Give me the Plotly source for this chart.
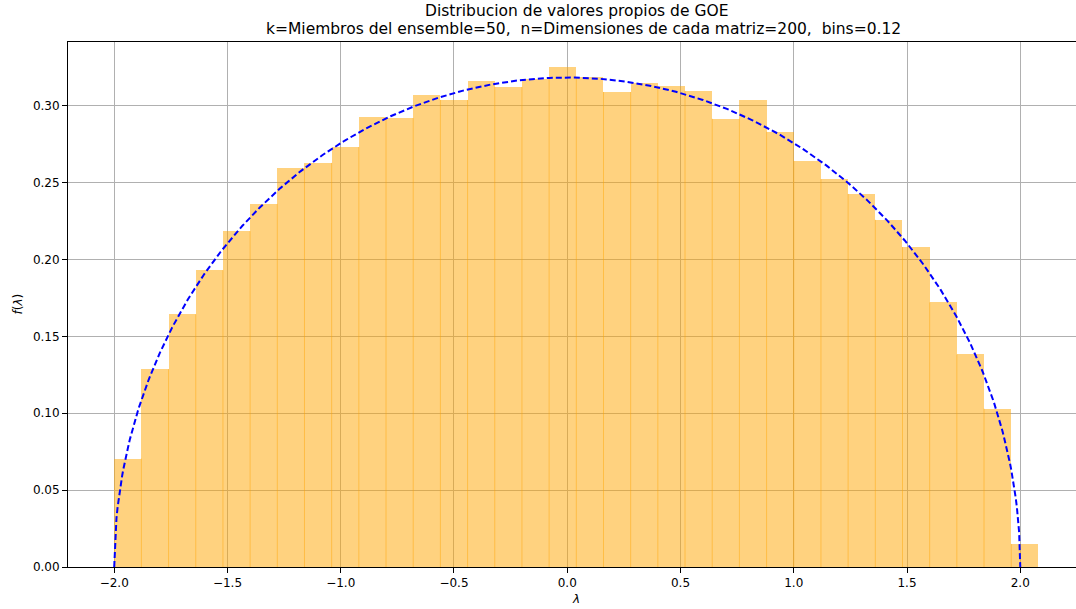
import numpy as np
import plotly.graph_objects as go

# ---- data ----
bin_start = -2.0
bin_width = 0.12
densities = [0.0705, 0.1286, 0.1643, 0.1930, 0.2184, 0.2361, 0.2594, 0.2628,
             0.2731, 0.2924, 0.2920, 0.3069, 0.3037, 0.3160, 0.3121, 0.3175,
             0.3251, 0.3184, 0.3089, 0.3147, 0.3128, 0.3095, 0.2915, 0.3039,
             0.2830, 0.2641, 0.2522, 0.2426, 0.2258, 0.2080, 0.1721, 0.1382,
             0.1030, 0.0150]
x_ticks = [-2.0, -1.5, -1.0, -0.5, 0.0, 0.5, 1.0, 1.5, 2.0]
y_ticks = [0.00, 0.05, 0.10, 0.15, 0.20, 0.25, 0.30]
title_line1 = "Distribucion de valores propios de GOE"
title_line2 = "k=Miembros del ensemble=50,  n=Dimensiones de cada matriz=200,  bins=0.12"

# analytic Wigner semicircle (theoretical curve drawn in the reference)
R = 2.0
lam = np.linspace(-R, R, 801)
semicircle = np.sqrt(np.clip(R**2 - lam**2, 0, None)) / (2 * np.pi)

n = len(densities)
centers = [bin_start + bin_width * (i + 0.5) for i in range(n)]

# seams between adjacent bars (overlapping semi-transparent edges in the original)
seam_x, seam_y = [], []
for i in range(1, n):
    e = bin_start + bin_width * i
    seam_x += [e, e, None]
    seam_y += [0, min(densities[i - 1], densities[i]), None]

FONT = "DejaVu Sans"
fig = go.Figure()
fig.add_trace(go.Bar(
    x=centers, y=densities, width=bin_width,
    marker=dict(color="rgba(255,165,0,0.5)", line=dict(width=0)),
    showlegend=False, hoverinfo="skip"))
fig.add_trace(go.Scatter(
    x=seam_x, y=seam_y, mode="lines",
    line=dict(color="rgba(255,165,0,0.45)", width=1),
    showlegend=False, hoverinfo="skip"))
fig.add_trace(go.Scatter(
    x=lam, y=semicircle, mode="lines",
    line=dict(color="#0000ff", width=2, dash="6px,3px"),
    showlegend=False, hoverinfo="skip"))

fig.update_layout(
    width=1076, height=609,
    margin=dict(l=68, r=0, t=42, b=42),
    paper_bgcolor="white", plot_bgcolor="white",
    bargap=0,
    font=dict(family=FONT, size=12, color="black"),
    showlegend=False,
)
fig.update_xaxes(
    range=[-2.204, 2.246], tickvals=x_ticks, tickformat=".1f",
    showgrid=True, gridcolor="#b0b0b0", gridwidth=1,
    showline=True, linecolor="black", linewidth=1, mirror=True,
    ticks="outside", ticklen=5, tickcolor="black", tickwidth=1,
    zeroline=False, tickfont=dict(family=FONT, size=12))
fig.update_yaxes(
    range=[0, 0.3414], tickvals=y_ticks, tickformat=".2f",
    showgrid=True, gridcolor="#b0b0b0", gridwidth=1,
    showline=True, linecolor="black", linewidth=1, mirror=False,
    ticks="outside", ticklen=5, tickcolor="black", tickwidth=1,
    zeroline=False, tickfont=dict(family=FONT, size=12))

fig.add_annotation(text=title_line1, xref="paper", yref="paper",
                   x=0.504, y=1.0, yshift=31.5, xanchor="center", yanchor="middle",
                   showarrow=False, borderpad=0,
                   font=dict(family=FONT, size=15.5, color="black"))
fig.add_annotation(text=title_line2, xref="paper", yref="paper",
                   x=0.511, y=1.0, yshift=13.5, xanchor="center", yanchor="middle",
                   showarrow=False, borderpad=0,
                   font=dict(family=FONT, size=15.5, color="black"))
fig.add_annotation(text="<i>λ</i>", xref="paper", yref="paper",
                   x=0.504, y=-0.061, xanchor="center", yanchor="middle",
                   showarrow=False, font=dict(family=FONT, size=12, color="black"))
fig.add_annotation(text="<i>f</i>(<i>λ</i>)", xref="paper", yref="paper",
                   x=0, xshift=-51, y=0.5, xanchor="center", yanchor="middle",
                   textangle=-90, showarrow=False,
                   font=dict(family=FONT, size=12, color="black"))

fig.write_html("out.html")
